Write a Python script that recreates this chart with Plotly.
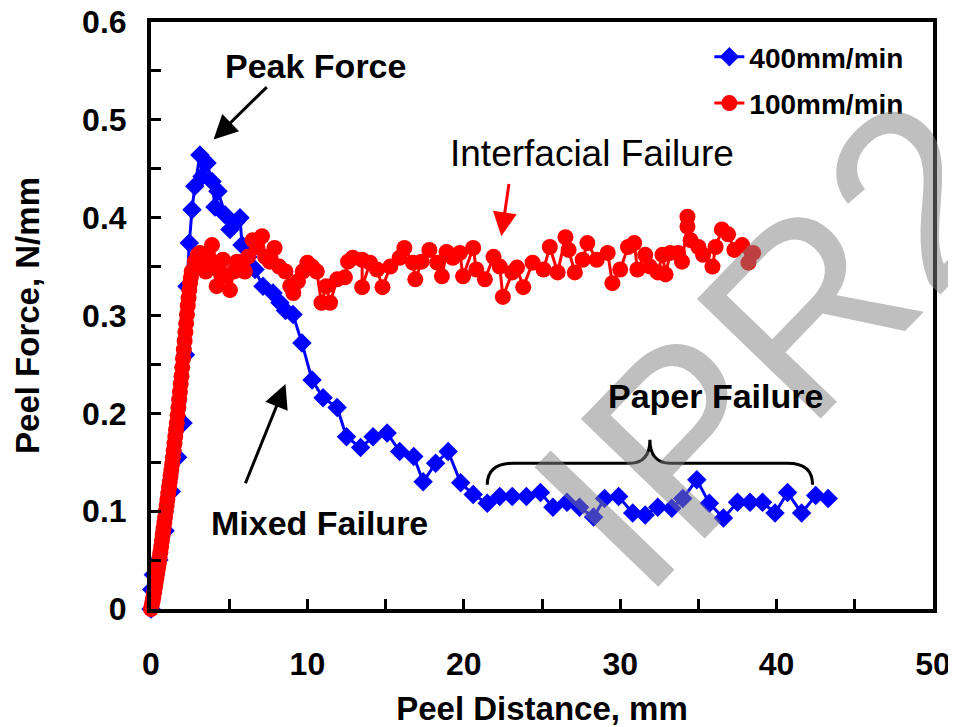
import plotly.graph_objects as go

# ---- data: 400 mm/min (blue diamonds) ----
dist_400 = [0.0, 0.05, 0.15, 0.5, 0.9, 1.3, 1.7, 2.05, 2.2, 2.3, 2.45, 2.62,
            2.8, 3.13, 3.26, 3.58, 3.9, 4.09, 4.28, 4.73, 5.05, 5.4, 5.69, 5.82, 6.2, 6.65,
            7.16, 7.8, 8.25, 8.6, 9.08, 9.65, 10.3, 11.0, 11.9, 12.5, 13.4, 14.2, 15.1, 15.9,
            16.8, 17.4, 18.2, 19.0, 19.8, 20.6, 21.5, 22.3, 23.1, 24.0, 24.9, 25.7, 26.6,
            27.4, 28.3, 29.0, 29.9, 30.8, 31.6, 32.4, 33.3, 34.0, 34.9, 35.7, 36.6, 37.5,
            38.3, 39.1, 39.9, 40.7, 41.6, 42.5, 43.3]
force_400 = [0.0, 0.02, 0.035, 0.05, 0.08, 0.12, 0.155, 0.19, 0.26, 0.33,
             0.374, 0.408, 0.432, 0.464, 0.442, 0.456, 0.437, 0.411, 0.427, 0.403, 0.388, 0.395,
             0.400, 0.372, 0.36, 0.347, 0.33, 0.323, 0.313, 0.305, 0.301, 0.272, 0.234, 0.216,
             0.206, 0.176, 0.165, 0.176, 0.180, 0.161, 0.156, 0.130, 0.149, 0.161, 0.129,
             0.117, 0.108, 0.115, 0.115, 0.115, 0.119, 0.104, 0.109, 0.104, 0.094, 0.113,
             0.115, 0.098, 0.096, 0.104, 0.103, 0.113, 0.132, 0.108, 0.093, 0.109, 0.109,
             0.109, 0.098, 0.119, 0.098, 0.116, 0.113]

# ---- data: 100 mm/min (red circles), densely sampled loading ramp then plateau ----
dist_100 = [0.00, 0.05, 0.10, 0.15, 0.20, 0.25, 0.30, 0.35, 0.40, 0.45, 0.50, 0.55, 0.60,
            0.65, 0.70, 0.75, 0.80, 0.85, 0.90, 0.95, 1.00, 1.05, 1.10, 1.15, 1.20, 1.25,
            1.30, 1.35, 1.40, 1.45, 1.50, 1.55, 1.60, 1.65, 1.70, 1.75, 1.80, 1.85, 1.90,
            1.95, 2.00, 2.05, 2.10, 2.15, 2.20, 2.25, 2.30, 2.35, 2.40, 2.45, 2.50, 2.55,
            2.60, 2.8, 3.0, 3.13, 3.3, 3.5, 3.7, 3.9, 4.0, 4.2, 4.4, 4.6, 4.8, 5.05, 5.3,
            5.5, 5.8, 6.0, 6.2, 6.5, 6.8, 7.1, 7.3, 7.6, 7.9, 8.2, 8.6, 8.9, 9.1, 9.4, 9.7,
            10.0, 10.3, 10.6, 10.9, 11.2, 11.45, 11.9, 12.4, 12.6, 12.9, 13.5, 13.5, 14.0,
            14.45, 14.8, 15.3, 15.9, 16.2, 16.75, 16.9, 17.3, 17.8, 18.3, 18.6, 18.9, 19.3,
            19.75, 19.95, 20.6, 20.8, 21.35, 21.9, 22.3, 22.5, 23.1, 23.4, 23.8, 24.4, 25.1,
            25.5, 26.0, 26.5, 26.7, 27.1, 27.6, 27.9, 28.5, 29.2, 29.5, 30.0, 30.5, 30.9,
            31.1, 31.6, 31.9, 32.4, 32.7, 32.9, 33.2, 33.7, 33.95, 34.3, 34.3, 34.5, 35.0,
            35.3, 35.9, 36.1, 36.5, 36.9, 37.3, 37.8, 38.2, 38.5]
force_100 = [0.000, 0.004, 0.008, 0.012, 0.017, 0.022, 0.027, 0.032, 0.037, 0.042, 0.047,
             0.053, 0.058, 0.064, 0.070, 0.076, 0.082, 0.088, 0.094, 0.100, 0.106, 0.112,
             0.118, 0.124, 0.130, 0.136, 0.142, 0.148, 0.155, 0.162, 0.169, 0.176, 0.183,
             0.190, 0.198, 0.206, 0.214, 0.222, 0.230, 0.238, 0.247, 0.256, 0.265, 0.274,
             0.283, 0.292, 0.301, 0.310, 0.318, 0.326, 0.333, 0.339, 0.345, 0.355, 0.362,
             0.364, 0.35, 0.345, 0.36, 0.372, 0.35, 0.33, 0.345, 0.357, 0.34, 0.326, 0.345,
             0.355, 0.35, 0.345, 0.36, 0.377, 0.37, 0.381, 0.36, 0.355, 0.369, 0.35, 0.345,
             0.33, 0.323, 0.335, 0.345, 0.354, 0.35, 0.345, 0.313, 0.33, 0.313, 0.337, 0.339,
             0.355, 0.359, 0.357, 0.329, 0.354, 0.347, 0.329, 0.35, 0.359, 0.369, 0.354,
             0.337, 0.355, 0.367, 0.354, 0.34, 0.365, 0.359, 0.364, 0.34, 0.369, 0.347, 0.337,
             0.36, 0.35, 0.319, 0.344, 0.349, 0.329, 0.354, 0.347, 0.37, 0.344, 0.38, 0.367,
             0.344, 0.357, 0.374, 0.357, 0.364, 0.333, 0.347, 0.37, 0.374, 0.347, 0.362, 0.35,
             0.344, 0.362, 0.342, 0.364, 0.364, 0.355, 0.391, 0.401, 0.377, 0.37, 0.362, 0.35,
             0.37, 0.388, 0.383, 0.367, 0.372, 0.354, 0.364]

series_names = ["400mm/min", "100mm/min"]
x_title = "Peel Distance, mm"
y_title = "Peel Force, N/mm"

FONT = "Arial, 'Liberation Sans', sans-serif"

fig = go.Figure()
fig.add_trace(go.Scatter(
    x=dist_400, y=force_400, mode="lines+markers", name=series_names[0],
    line=dict(color="#0000FF", width=3),
    marker=dict(symbol="diamond", size=15, color="#0000FF"),
    cliponaxis=False, legendgroup="a"))
fig.add_trace(go.Scatter(
    x=dist_100, y=force_100, mode="lines+markers", name=series_names[1],
    line=dict(color="#FF0000", width=3),
    marker=dict(symbol="circle", size=16, color="#FF0000"),
    cliponaxis=False, legendgroup="b"))

# watermark (translucent grey so the data stays visible beneath it)
fig.add_annotation(text="IPR2", xref="paper", yref="paper", x=0.795, y=0.453,
                   xanchor="center", yanchor="middle",
                   showarrow=False, textangle=-46,
                   font=dict(family=FONT, size=250, color="rgba(128,128,128,0.5)"))

tick_font = dict(family=FONT, size=32, color="black", weight="bold")
title_font = dict(family=FONT, size=33, color="black", weight="bold")
note_font = dict(family=FONT, size=34, color="black", weight="bold")

# text annotations
fig.add_annotation(text="Peak Force", x=10.5, y=0.555, xref="x", yref="y", showarrow=False,
                   font=note_font)
fig.add_annotation(text="Interfacial Failure", x=28.2, y=0.466, xref="x", yref="y",
                   showarrow=False, font=dict(family=FONT, size=37, color="black"))
fig.add_annotation(text="Paper Failure", x=36.1, y=0.218, xref="x", yref="y", showarrow=False,
                   font=note_font)
fig.add_annotation(text="Mixed Failure", x=10.8, y=0.088, xref="x", yref="y", showarrow=False,
                   font=note_font)

# arrows
fig.add_annotation(x=4.0, y=0.48, ax=7.5, ay=0.535, xref="x", yref="y", axref="x", ayref="y",
                   text="", showarrow=True, arrowhead=2, arrowsize=1.6, arrowwidth=3,
                   arrowcolor="black")
fig.add_annotation(x=8.6, y=0.23, ax=6.0, ay=0.127, xref="x", yref="y", axref="x", ayref="y",
                   text="", showarrow=True, arrowhead=2, arrowsize=1.6, arrowwidth=3,
                   arrowcolor="black")
fig.add_annotation(x=22.4, y=0.381, ax=22.9, ay=0.436, xref="x", yref="y", axref="x", ayref="y",
                   text="", showarrow=True, arrowhead=2, arrowsize=1.6, arrowwidth=3,
                   arrowcolor="#FF0000")

# curly brace
fig.add_shape(type="path", xref="x", yref="y",
              path="M 21.5,0.127 Q 21.5,0.149 23.2,0.149 L 30.6,0.149 Q 31.9,0.149 31.9,0.173 "
                   "Q 31.9,0.149 33.2,0.149 L 40.7,0.149 Q 42.3,0.149 42.3,0.127",
              line=dict(color="black", width=3))

# the page body adds an 8 px offset, so the figure is 8 px smaller on each axis
fig.update_layout(
    width=948, height=719,
    margin=dict(l=143, r=23, t=14, b=118, autoexpand=False),
    paper_bgcolor="white", plot_bgcolor="white",
    font=dict(family=FONT, color="black"),
    legend=dict(x=0.714, y=0.983, xanchor="left", yanchor="top",
                bgcolor="rgba(0,0,0,0)", tracegroupgap=7,
                font=dict(family=FONT, size=28, color="black", weight="bold")),
)
fig.update_xaxes(range=[0, 50], dtick=10, tick0=0, showgrid=False, zeroline=False,
                 showline=True, linecolor="black", linewidth=4, mirror=True,
                 ticks="inside", ticklen=10, tickwidth=3, tickcolor="black",
                 minor=dict(dtick=5, ticks="inside", ticklen=10, tickwidth=3, tickcolor="black"),
                 tickfont=tick_font, ticklabelstandoff=24, automargin=False,
                 ticklabeloverflow="allow",
                 title=dict(text=x_title, font=title_font, standoff=24))
fig.update_yaxes(range=[0, 0.6], dtick=0.1, tick0=0, showgrid=False, zeroline=False,
                 showline=True, linecolor="black", linewidth=4, mirror=True,
                 ticks="inside", ticklen=10, tickwidth=3, tickcolor="black",
                 minor=dict(dtick=0.05, ticks="inside", ticklen=10, tickwidth=3, tickcolor="black"),
                 tickfont=tick_font, ticklabelstandoff=14, automargin=False,
                 ticklabeloverflow="allow",
                 title=dict(text=y_title, font=title_font, standoff=34))

fig.write_html("out.html")
